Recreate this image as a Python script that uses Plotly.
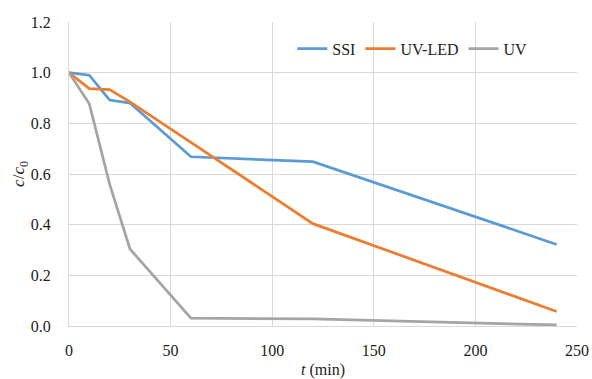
import plotly.graph_objects as go

t_min = [0, 10, 20, 30, 60, 120, 240]
ssi = [1.0, 0.99, 0.892, 0.88, 0.668, 0.649, 0.322]
uv_led = [1.0, 0.937, 0.933, 0.885, 0.725, 0.404, 0.057]
uv = [1.0, 0.877, 0.56, 0.304, 0.031, 0.028, 0.004]

series_names = ["SSI", "UV-LED", "UV"]
series_values = [ssi, uv_led, uv]
colors = ["#5B9BD5", "#ED7D31", "#A5A5A5"]

font_family = "Liberation Serif"

fig = go.Figure()
for name, vals, c in zip(series_names, series_values, colors):
    fig.add_trace(go.Scatter(x=t_min, y=vals, mode="lines", name=name,
                             line=dict(color=c, width=2.75)))

fig.update_layout(
    width=592, height=379,
    margin=dict(l=69, r=15, t=22, b=53, autoexpand=False),
    paper_bgcolor="white", plot_bgcolor="white",
    font=dict(family=font_family, size=16, color="#222222"),
    showlegend=True,
    legend=dict(orientation="h", x=0.912, xanchor="right", y=0.912, yanchor="middle",
                bgcolor="rgba(0,0,0,0)", font=dict(family=font_family, size=16), itemwidth=30,
                tracegroupgap=0),
    xaxis=dict(range=[0, 250], tickvals=[0, 50, 100, 150, 200, 250],
               showgrid=True, gridcolor="#D9D9D9", gridwidth=1, automargin=False,
               zeroline=False, showline=True, linecolor="#D9D9D9", linewidth=1,
               ticks="", ticklabelstandoff=10,
               tickfont=dict(family=font_family, size=16),
               title=dict(text="<i>t</i> (min)", standoff=6,
                          font=dict(family=font_family, size=16))),
    yaxis=dict(range=[0, 1.2], tickvals=[0, 0.2, 0.4, 0.6, 0.8, 1.0, 1.2],
               tickformat=".1f", automargin=False,
               showgrid=True, gridcolor="#D9D9D9", gridwidth=1,
               zeroline=False, showline=True, linecolor="#D9D9D9", linewidth=1,
               ticks="", ticklabelstandoff=14,
               tickfont=dict(family=font_family, size=16),
               title=dict(text="<i>c</i>/<i>c</i><sub>0</sub>", standoff=0,
                          font=dict(family=font_family, size=17))),
)

fig.write_html("out.html")
